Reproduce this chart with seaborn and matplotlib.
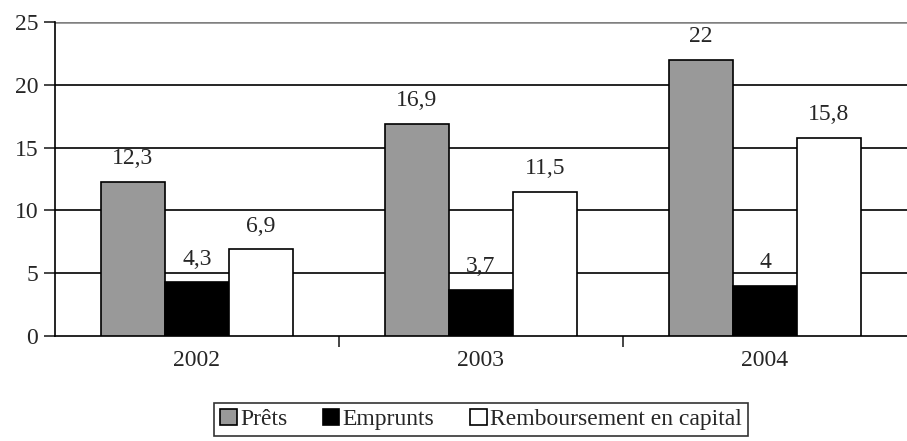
import pandas as pd
import matplotlib.pyplot as plt
import seaborn as sns

years = ["2002", "2003", "2004"]
series = ["Prêts", "Emprunts", "Remboursement en capital"]
prets = [12.3, 16.9, 22.0]
emprunts = [4.3, 3.7, 4.0]
remboursement = [6.9, 11.5, 15.8]
labels = [["12,3", "16,9", "22"], ["4,3", "3,7", "4"], ["6,9", "11,5", "15,8"]]
colors = ["#999999", "#000000", "#ffffff"]

df = pd.DataFrame({
    "Année": years * 3,
    "Série": [s for s in series for _ in years],
    "Valeur": prets + emprunts + remboursement,
})

sns.set_style("white")
plt.rcParams["font.family"] = ["Liberation Serif", "DejaVu Serif"]
fs = 17

fig = plt.figure(figsize=(9.07, 4.41), dpi=100)
ax = fig.add_axes([0.0606, 0.238, 0.9394, 0.712])

sns.barplot(data=df, x="Année", y="Valeur", hue="Série", hue_order=series,
            palette=colors, edgecolor="black", linewidth=1.2, width=0.676,
            saturation=1, ax=ax, zorder=3)

# étiquettes de valeurs
for cont, labs in zip(ax.containers, labels):
    ax.bar_label(cont, labels=labs, padding=9, fontsize=fs)

ax.set_ylim(0, 25)
ax.set_yticks([0, 5, 10, 15, 20, 25])
ax.set_xlim(-0.5, 2.5)
for y in [5, 10, 15, 20]:
    ax.axhline(y, color="black", linewidth=1.2, zorder=1)
ax.axhline(25, color="#808080", linewidth=1.8, zorder=1)

for s in ["top", "right"]:
    ax.spines[s].set_visible(False)
for s in ["left", "bottom"]:
    ax.spines[s].set_color("black")
    ax.spines[s].set_linewidth(1.2)

ax.tick_params(axis="y", direction="out", length=8, width=1.2, labelsize=fs, pad=4, left=True)
ax.set_xticks([0, 1, 2])
ax.set_xticks([0.5, 1.5], minor=True)
ax.tick_params(axis="x", which="major", length=0, labelsize=fs, pad=10)
ax.tick_params(axis="x", which="minor", direction="out", length=8, width=1.2, bottom=True)
ax.set_xlabel("")
ax.set_ylabel("")

leg = ax.legend(loc="upper center", bbox_to_anchor=(0.5, -0.175), ncol=3,
                frameon=True, fancybox=False, edgecolor="black", fontsize=fs,
                handlelength=0.7, handleheight=0.7, handletextpad=0.15,
                columnspacing=1.5, borderpad=0.25)
leg.get_frame().set_linewidth(1.2)

fig.savefig("out.png", dpi=100)
